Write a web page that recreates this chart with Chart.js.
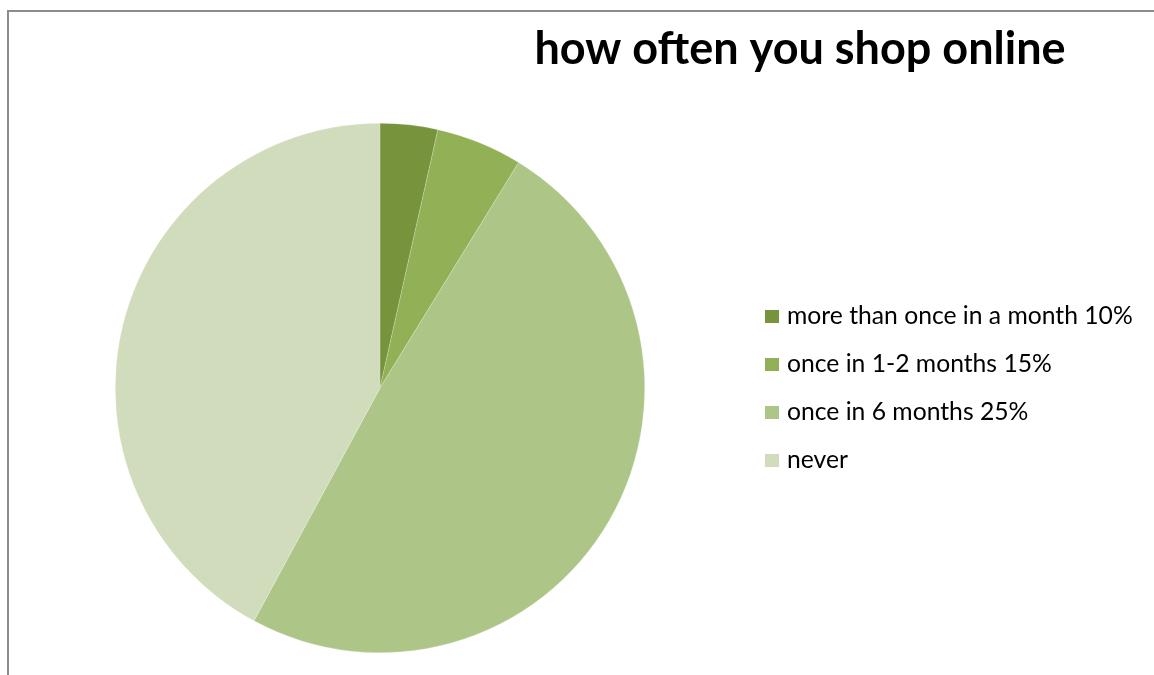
<!DOCTYPE html>
<html>
<head>
<meta charset="utf-8">
<script src="https://cdn.jsdelivr.net/npm/chart.js@4"></script>
<style>
  html, body { margin: 0; padding: 0; background: #fff; }
  #wrap { position: relative; width: 1154px; height: 675px; }
</style>
</head>
<body>
<div id="wrap"><canvas id="shopChart" width="1154" height="675"></canvas></div>
<script>
// Datos del gráfico
const chartTitle = 'how often you shop online';
const labels = [
    'more than once in a month 10%',
    'once in 1-2 months 15%',
    'once in 6 months 25%',
    'never'
];
const counts = [2, 3, 28, 24];
const sliceColors = ['#77933c', '#92b055', '#adc687', '#d0dcbb'];

// Marco, título y leyenda dibujados a mano
const frameAndLegend = {
    id: 'frameAndLegend',
    afterDraw(chart) {
        const ctx = chart.ctx;
        ctx.save();
        // marco gris (arriba e izquierda)
        ctx.strokeStyle = '#8c8c8c';
        ctx.lineWidth = 2;
        ctx.beginPath();
        ctx.moveTo(1154, 11);
        ctx.lineTo(8, 11);
        ctx.lineTo(8, 675);
        ctx.stroke();

        // título
        ctx.fillStyle = '#000';
        ctx.font = 'bold 45px Lato';
        ctx.textAlign = 'center';
        ctx.textBaseline = 'alphabetic';
        ctx.fillText(chartTitle, 800, 64);

        // leyenda
        ctx.font = '24.7px Lato';
        ctx.textAlign = 'left';
        ctx.textBaseline = 'middle';
        chart.data.labels.forEach((lbl, i) => {
            const y = 316 + i * 48;
            ctx.fillStyle = chart.data.datasets[0].backgroundColor[i];
            ctx.fillRect(765, y - 6, 14, 13);
            ctx.fillStyle = '#000';
            ctx.fillText(lbl, 787, y);
        });
        ctx.restore();
    }
};

const ctx = document.getElementById('shopChart').getContext('2d');
new Chart(ctx, {
    type: 'pie',
    data: {
        labels: labels,
        datasets: [{
            data: counts,
            backgroundColor: sliceColors,
            borderColor: 'rgba(255,255,255,0.4)',
            borderWidth: 0.5
        }]
    },
    options: {
        responsive: false,
        animation: false,
        layout: {
            padding: { left: 115, top: 123, right: 509, bottom: 22 }
        },
        plugins: {
            legend: { display: false },
            title: { display: false },
            tooltip: { enabled: false }
        }
    },
    plugins: [frameAndLegend]
});
</script>
</body>
</html>
